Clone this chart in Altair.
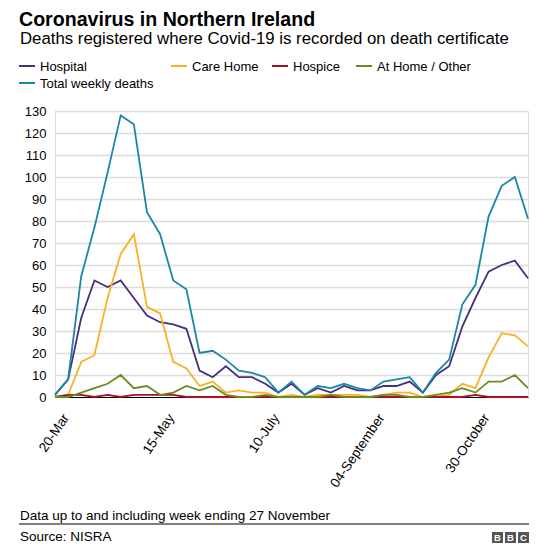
import altair as alt
import pandas as pd

weeks = ["20-Mar", "27-Mar", "03-Apr", "10-Apr", "17-Apr", "24-Apr", "01-May", "08-May",
         "15-May", "22-May", "29-May", "05-Jun", "12-Jun", "19-Jun", "26-Jun", "03-Jul",
         "10-July", "17-Jul", "24-Jul", "31-Jul", "07-Aug", "14-Aug", "21-Aug", "28-Aug",
         "04-September", "11-Sep", "18-Sep", "25-Sep", "02-Oct", "09-Oct", "16-Oct", "23-Oct",
         "30-October", "06-Nov", "13-Nov", "20-Nov", "27-Nov"]
tick_labels = ["20-Mar", "15-May", "10-July", "04-September", "30-October"]

hospital = [1, 8, 36, 53, 50, 53, 45, 37, 34, 33, 31, 12, 9, 14, 9, 9, 6, 2, 6, 1, 4, 2, 5, 3, 3,
            5, 5, 7, 2, 10, 14, 32, 45, 57, 60, 62, 54]
care_home = [0, 1, 16, 19, 45, 65, 74, 41, 38, 16, 13, 5, 7, 2, 3, 2, 2, 0, 1, 0, 1, 1, 1, 1, 0,
             1, 2, 2, 0, 0, 1, 6, 4, 18, 29, 28, 23]
hospice = [0, 1, 1, 0, 1, 0, 1, 1, 1, 1, 0, 0, 0, 0, 0, 0, 0, 0, 0, 0, 0, 0, 0, 0, 0,
           0, 0, 0, 0, 0, 0, 0, 1, 0, 0, 0, 0]
at_home = [0, 0, 2, 4, 6, 10, 4, 5, 1, 2, 5, 3, 5, 1, 0, 0, 1, 0, 0, 0, 0, 1, 0, 0, 0,
           1, 1, 0, 0, 1, 2, 4, 2, 7, 7, 10, 4]
total = [1, 8, 55, 77, 102, 128, 124, 84, 74, 53, 49, 20, 21, 17, 12, 11, 9, 2, 7, 1, 5, 4, 6, 4, 3,
         7, 8, 9, 2, 11, 17, 42, 51, 82, 96, 100, 81]

series_names = ["Hospital", "Care Home", "Hospice", "At Home / Other", "Total weekly deaths"]
series_values = [hospital, care_home, hospice, at_home, total]
colors = ["#46307e", "#f7b126", "#a3122a", "#6a8c1f", "#1a87a6"]

rows = []
for name, vals in zip(series_names, series_values):
    for w, v in zip(weeks, vals):
        rows.append({"week": w, "series": name, "value": v})
df = pd.DataFrame(rows)

FONT = "Liberation Sans"

lines = alt.Chart(df).mark_line(strokeWidth=1.8).encode(
    x=alt.X("week:O", sort=weeks, scale=alt.Scale(type="point", padding=0),
            axis=alt.Axis(values=tick_labels, labelAngle=-56, labelAlign="right",
                          labelBaseline="top", labelFontSize=13.5, labelFont=FONT,
                          labelColor="black", ticks=False, grid=False, domainColor="black",
                          domainWidth=1, labelPadding=14, labelOffset=5, title=None)),
    y=alt.Y("value:Q", scale=alt.Scale(domain=[0, 130], nice=False),
            axis=alt.Axis(values=list(range(0, 131, 10)), labelFontSize=13, labelFont=FONT,
                          labelColor="black", ticks=False, domainColor="#d9d9d9",
                          gridColor="#dcdcdc", gridWidth=1.5, labelPadding=9, title=None)),
    color=alt.Color("series:N", scale=alt.Scale(domain=series_names, range=colors), legend=None),
    detail="series:N",
)

one = pd.DataFrame({"a": [0]})

def txt(s, x, y, size, weight="normal", color="black", align="left", baseline="alphabetic"):
    return alt.Chart(one).mark_text(text=s, font=FONT, fontSize=size, fontWeight=weight,
                                    color=color, align=align, baseline=baseline).encode(
        x=alt.value(x), y=alt.value(y))

# legend (page coords minus plot origin 55,111)
legend_pos = [(-36, -45), (116, -45), (217, -45), (301, -45), (-36, -28)]
legend_layers = []
for name, col, (lx, ly) in zip(series_names, colors, legend_pos):
    legend_layers.append(alt.Chart(one).mark_rule(color=col, strokeWidth=2).encode(
        x=alt.value(lx), x2=alt.value(lx + 16), y=alt.value(ly)))
    legend_layers.append(txt(name, lx + 21, ly + 0.5, 13, baseline="middle"))

title = txt("Coronavirus in Northern Ireland", -36, -100.5, 19.6, "bold", baseline="top")
subtitle = txt("Deaths registered where Covid-19 is recorded on death certificate", -35, -67.5, 16.8)
note = txt("Data up to and including week ending 27 November", -35, 409, 13.5)
source = txt("Source: NISRA", -35, 430, 13.5)
rule = alt.Chart(one).mark_rule(color="#555555", strokeWidth=1.5).encode(
    x=alt.value(-36), x2=alt.value(474), y=alt.value(413))

logo_layers = []
for k, letter in enumerate(["B", "B", "C"]):
    x0 = 437 + k * 13
    logo_layers.append(alt.Chart(one).mark_rect(color="#555555").encode(
        x=alt.value(x0), x2=alt.value(x0 + 11), y=alt.value(421), y2=alt.value(432)))
    logo_layers.append(alt.Chart(one).mark_text(text=letter, font=FONT, fontSize=9.5,
                                                fontWeight="bold", color="white",
                                                align="center", baseline="middle").encode(
        x=alt.value(x0 + 5.5), y=alt.value(426.8)))

chart = alt.layer(lines, title, subtitle, *legend_layers, note, source, rule, *logo_layers).properties(
    width=473, height=286,
    autosize=alt.AutoSizeParams(type="none"),
    padding={"left": 47, "top": 103, "right": 13, "bottom": 148},
).configure_view(stroke=None).configure(background="white")

chart.save("out.html", embed_options={"renderer": "svg", "actions": False})
